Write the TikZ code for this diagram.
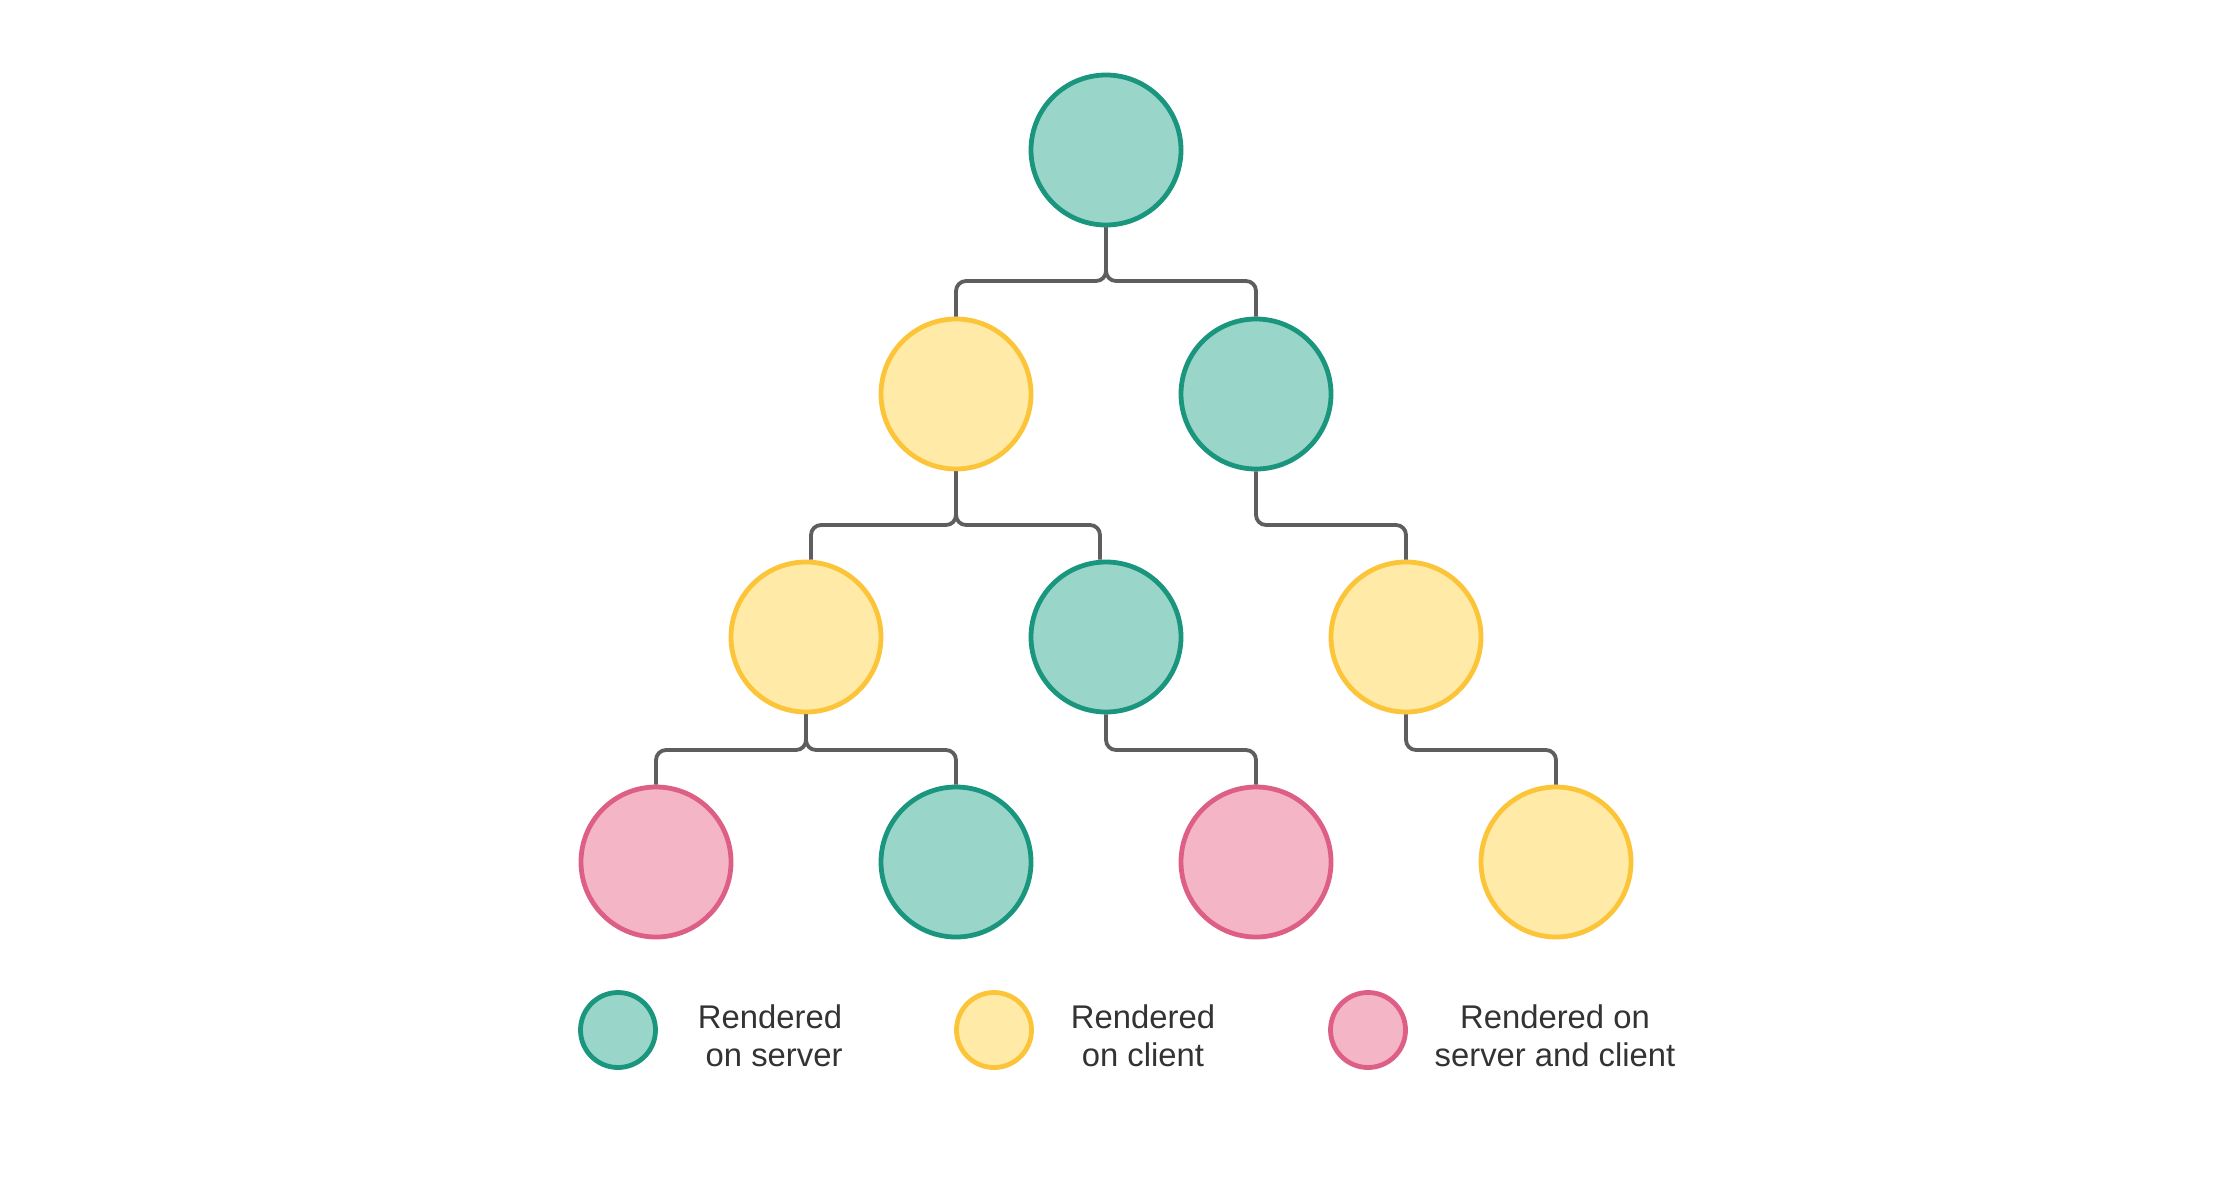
\documentclass[tikz,border=0pt]{standalone}
\usepackage{fontspec}
\setmainfont{Liberation Sans}
\definecolor{tealfill}{HTML}{9AD5CA}
\definecolor{tealdraw}{HTML}{19967D}
\definecolor{yelfill}{HTML}{FFEBA7}
\definecolor{yeldraw}{HTML}{FCC438}
\definecolor{pinkfill}{HTML}{F4B5C7}
\definecolor{pinkdraw}{HTML}{DE5F85}
\definecolor{linkgray}{HTML}{5E5E5E}
\definecolor{txtgray}{HTML}{333333}
\tikzset{
  nd/.style={circle, inner sep=0pt, minimum size=150pt, line width=4.8pt},
  lg/.style={circle, inner sep=0pt, minimum size=75pt, line width=4.8pt},
  srv/.style={fill=tealfill, draw=tealdraw},
  cli/.style={fill=yelfill, draw=yeldraw},
  both/.style={fill=pinkfill, draw=pinkdraw},
  link/.style={draw=linkgray, line width=3.8pt, rounded corners=10pt},
  lbl/.style={text=txtgray, align=center, font=\fontsize{32.8pt}{38pt}\selectfont, inner sep=0pt}
}
\begin{document}
\begin{tikzpicture}[x=1pt,y=-1pt]
\path[use as bounding box, fill=white] (0,0) rectangle (2213,1181);
% tree nodes
\node[nd,srv] (r) at (1106,150) {};
\node[nd,cli] (a) at (956,394) {};
\node[nd,srv] (b) at (1256,394) {};
\node[nd,cli] (c) at (806,637) {};
\node[nd,srv] (d) at (1106,637) {};
\node[nd,cli] (e) at (1406,637) {};
\node[nd,both] (f) at (656,862) {};
\node[nd,srv] (g) at (956,862) {};
\node[nd,both] (h) at (1256,862) {};
\node[nd,cli] (i) at (1556,862) {};
% connectors
\draw[link] (r.south) -- (r.south |- 0,281) -| (a.north);
\draw[link] (r.south) -- (r.south |- 0,281) -| (b.north);
\draw[link] (a.south) -- (a.south |- 0,525) -| ([xshift=5pt]c.north);
\draw[link] (a.south) -- (a.south |- 0,525) -| ([xshift=-6pt]d.north);
\draw[link] (b.south) -- (b.south |- 0,525) -| (e.north);
\draw[link] (c.south) -- (c.south |- 0,750) -| (f.north);
\draw[link] (c.south) -- (c.south |- 0,750) -| (g.north);
\draw[link] (d.south) -- (d.south |- 0,750) -| (h.north);
\draw[link] (e.south) -- (e.south |- 0,750) -| (i.north);
% legend
\node[lg,srv] (l1) at (618,1030) {};
\node[lg,cli] (l2) at (994,1030) {};
\node[lg,both] (l3) at (1368,1030) {};
\node[lbl] (t1) at (770,1036) {Rendered\\\hspace*{0.25em}on server};
\node[lbl] (t2) at (1143,1036) {Rendered\\on client};
\node[lbl] (t3) at (1555,1036) {Rendered on\\server and client};
\end{tikzpicture}
\end{document}
